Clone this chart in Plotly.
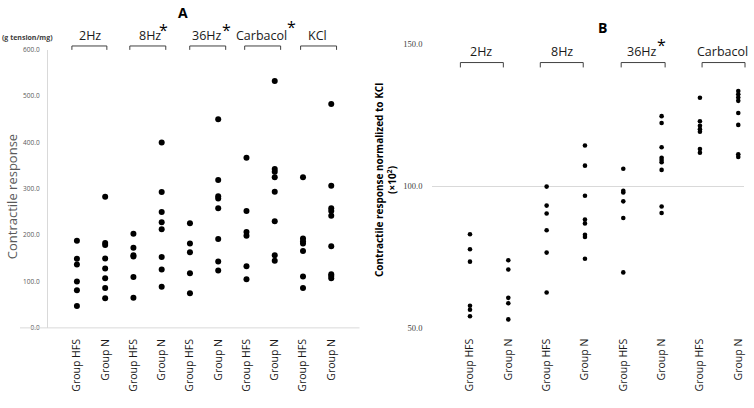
import plotly.graph_objects as go

W, H = 754, 408

# ---------------- data ----------------
tick_labels_A = ["Group HFS", "Group N"] * 5
groups_A = ["2Hz", "8Hz", "36Hz", "Carbacol", "KCl"]
A_2Hz_HFS = [188, 149, 137, 100, 81, 47]
A_2Hz_N = [283, 183, 179, 150, 128, 107, 86, 64]
A_8Hz_HFS = [203, 173, 157, 154, 110, 65]
A_8Hz_N = [400, 293, 250, 228, 213, 153, 126, 89]
A_36Hz_HFS = [226, 182, 163, 118, 75]
A_36Hz_N = [450, 319, 284, 279, 258, 192, 143, 124]
A_Carb_HFS = [367, 252, 207, 199, 133, 105]
A_Carb_N = [533, 343, 337, 325, 294, 230, 157, 145]
A_KCl_HFS = [325, 193, 187, 182, 166, 111, 86]
A_KCl_N = [483, 307, 258, 252, 242, 176, 116, 112, 107]
series_A = [A_2Hz_HFS, A_2Hz_N, A_8Hz_HFS, A_8Hz_N, A_36Hz_HFS, A_36Hz_N,
            A_Carb_HFS, A_Carb_N, A_KCl_HFS, A_KCl_N]
yticks_A = [0, 100, 200, 300, 400, 500, 600]

tick_labels_B = ["Group HFS", "Group N"] * 4
groups_B = ["2Hz", "8Hz", "36Hz", "Carbacol"]
B_2Hz_HFS = [83.0, 77.7, 73.3, 57.7, 56.3, 54.0]
B_2Hz_N = [73.8, 70.5, 60.5, 58.6, 52.9]
B_8Hz_HFS = [99.8, 93.1, 90.3, 84.4, 76.5, 62.4]
B_8Hz_N = [114.3, 107.2, 96.6, 88.2, 86.8, 82.8, 82.0, 74.3]
B_36Hz_HFS = [106.1, 98.3, 97.7, 94.6, 88.7, 69.5]
B_36Hz_N = [124.7, 122.3, 113.7, 110.0, 109.2, 108.4, 105.7, 92.8, 90.5]
B_Carb_HFS = [131.2, 122.9, 121.3, 120.1, 119.2, 113.1, 111.8]
B_Carb_N = [133.6, 132.4, 131.3, 130.1, 125.8, 121.6, 111.2, 110.3]
series_B = [B_2Hz_HFS, B_2Hz_N, B_8Hz_HFS, B_8Hz_N, B_36Hz_HFS, B_36Hz_N,
            B_Carb_HFS, B_Carb_N]
yticks_B = [50, 100, 150]

FONT = "Open Sans"


def px(x):
    return x / W


def py(y):
    return 1 - y / H


fig = go.Figure()

for i, vals in enumerate(series_A):
    fig.add_trace(go.Scatter(x=[i] * len(vals), y=vals, mode="markers",
                             marker=dict(color="black", size=6),
                             xaxis="x", yaxis="y", showlegend=False))
for i, vals in enumerate(series_B):
    fig.add_trace(go.Scatter(x=[i] * len(vals), y=vals, mode="markers",
                             marker=dict(color="black", size=4.6),
                             xaxis="x2", yaxis="y2", showlegend=False))

shapes = []
annotations = []

# left baseline (runs through the 0.0 label as in the original)
shapes.append(dict(type="line", xref="paper", yref="paper",
                   x0=px(20), x1=px(360), y0=py(331), y1=py(331),
                   line=dict(color="#d9d9d9", width=1)))

# brackets
br_A = [(72, 107), (130, 166), (190, 226), (245, 281), (301, 337)]
for (a, b) in br_A:
    shapes.append(dict(type="path", xref="paper", yref="paper",
                       path=f"M {px(a)},{py(46)} L {px(a)},{py(42)} L {px(b)},{py(42)} L {px(b)},{py(46)}",
                       line=dict(color="#404040", width=1)))
br_B = [(461, 504), (541, 584), (622, 666), (703, 746)]
for (a, b) in br_B:
    shapes.append(dict(type="path", xref="paper", yref="paper",
                       path=f"M {px(a)},{py(64)} L {px(a)},{py(59)} L {px(b)},{py(59)} L {px(b)},{py(64)}",
                       line=dict(color="#404040", width=1)))


def ann(text, x, y, size, color="black", angle=0, family=FONT):
    annotations.append(dict(text=text, x=px(x), y=py(y), xref="paper", yref="paper",
                            showarrow=False, xanchor="center", yanchor="middle",
                            textangle=angle,
                            font=dict(family=family, size=size, color=color)))


lab_A = [90, 150, 207, 262, 318]
for name, x in zip(groups_A, lab_A):
    ann(name, x, 31, 12.5, "#1a1a1a")
lab_B = [482, 563, 643, 723]
for name, x in zip(groups_B, lab_B):
    ann(name, x, 48, 12.5, "#1a1a1a")

for (x, y) in [(164, 26), (227, 26), (292, 23), (662, 41)]:
    ann("*", x, y, 16, "black")

ann("<b>A</b>", 183, 8, 14)
ann("<b>B</b>", 603, 23, 14)
ann("<b>(g tension/mg)</b>", 28, 33, 7, "#404040")
ann("Contractile response", 12, 196, 13, "#595959", -90)
ann("<b>Contractile response normalized to KCl<br>(×10<sup>2</sup>)</b>", 386, 179, 10, "black", -90)

fig.update_layout(
    width=W, height=H, autosize=False,
    margin=dict(l=0, r=0, t=0, b=0),
    paper_bgcolor="white", plot_bgcolor="white",
    font=dict(family=FONT),
    shapes=shapes, annotations=annotations,
    xaxis=dict(domain=[px(48), px(360)], range=[-1.025, 10.0],
               tickmode="array", tickvals=list(range(len(tick_labels_A))),
               ticktext=tick_labels_A, tickangle=-90,
               showgrid=False, zeroline=False, showline=False, ticks="",
               ticklabelstandoff=8,
               tickfont=dict(family=FONT, size=10.5, color="#1a1a1a")),
    yaxis=dict(domain=[py(331), py(46)], range=[0, 600],
               tickmode="array", tickvals=yticks_A, tickformat=".1f",
               showgrid=False, zeroline=False, showline=True,
               linecolor="#d9d9d9", linewidth=1, ticks="",
               ticklabelstandoff=6,
               tickfont=dict(family=FONT, size=6.5, color="#595959")),
    xaxis2=dict(domain=[px(433), px(745)], range=[-0.98, 7.15], anchor="y2",
                tickmode="array", tickvals=list(range(len(tick_labels_B))),
                ticktext=tick_labels_B, tickangle=-90,
                showgrid=False, zeroline=False, showline=False, ticks="",
                ticklabelstandoff=8,
                tickfont=dict(family=FONT, size=10.5, color="#1a1a1a")),
    yaxis2=dict(domain=[py(330.7), py(40.5)], range=[50, 150], anchor="x2",
                tickmode="array", tickvals=yticks_B, tickformat=".1f",
                showgrid=True, gridcolor="#d9d9d9", gridwidth=1,
                zeroline=False, showline=False, ticks="",
                ticklabelstandoff=9,
                tickfont=dict(family="Liberation Serif", size=8.5, color="#404040")),
)

fig.write_html("out.html", config={"displayModeBar": False},
               post_script="document.body.style.margin='0';document.body.style.overflow='hidden';")
